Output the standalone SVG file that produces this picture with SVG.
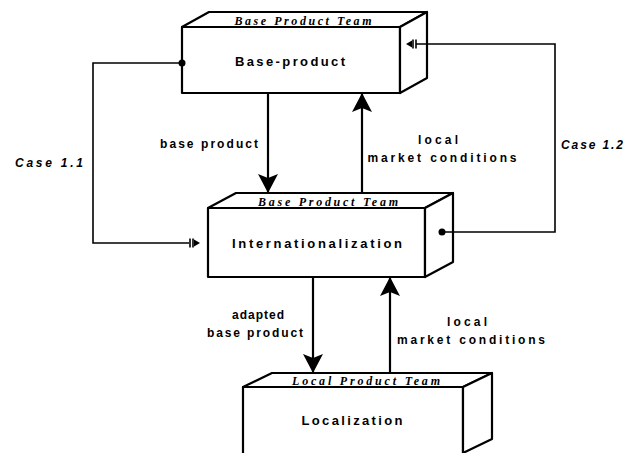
<svg xmlns="http://www.w3.org/2000/svg" width="628" height="453" viewBox="0 0 628 453">
<style>
.box{fill:#fff;stroke:#000;stroke-width:2.2;stroke-linejoin:round}
.con{fill:none;stroke:#000;stroke-width:1.6}
.arr{fill:none;stroke:#000;stroke-width:2.2}
.lbl{font-family:"Liberation Sans",Arial,sans-serif;font-weight:bold;font-size:12px;fill:#000}
.name{font-family:"Liberation Sans",Arial,sans-serif;font-weight:bold;font-size:13px;fill:#000}
.team{font-family:"Liberation Serif","Times New Roman",serif;font-style:italic;font-weight:bold;font-size:12px;fill:#000}
.case{font-family:"Liberation Sans",Arial,sans-serif;font-style:italic;font-weight:bold;font-size:12px;fill:#000}
</style>
<defs>
<marker id="ah" viewBox="0 0 19 20" refX="19" refY="10" markerWidth="19" markerHeight="20" markerUnits="userSpaceOnUse" orient="auto">
<path d="M0,0 L19,10 L0,20 L4,10 z" fill="#000"/>
</marker>
</defs>
<rect width="628" height="453" fill="#fff"/>

<g id="base-product">
<rect class="box" x="182" y="27" width="218" height="66"/>
<polygon class="box" points="182,27 209,12 427,12 400,27"/>
<polygon class="box" points="400,27 427,12 427,78 400,93"/>
<text class="team" x="303" y="25" text-anchor="middle" textLength="137" lengthAdjust="spacing">Base Product Team</text>
<text class="name" x="290" y="66" text-anchor="middle" textLength="110" lengthAdjust="spacing">Base-product</text>
</g>

<g id="internationalization">
<rect class="box" x="208" y="208" width="217" height="69"/>
<polygon class="box" points="208,208 236,193 453,193 425,208"/>
<polygon class="box" points="425,208 453,193 453,262 425,277"/>
<text class="team" x="328" y="206" text-anchor="middle" textLength="140" lengthAdjust="spacing">Base Product Team</text>
<text class="name" x="317" y="248" text-anchor="middle" textLength="170" lengthAdjust="spacing">Internationalization</text>
</g>

<g id="localization">
<rect class="box" x="243" y="387" width="220" height="70"/>
<polygon class="box" points="243,387 272,373 492,373 463,387"/>
<polygon class="box" points="463,387 492,373 492,439 463,453"/>
<text class="team" x="366" y="385" text-anchor="middle" textLength="148" lengthAdjust="spacing">Local Product Team</text>
<text class="name" x="352" y="425" text-anchor="middle" textLength="101" lengthAdjust="spacing">Localization</text>
</g>

<g id="connectors">
<line class="arr" x1="268" y1="93" x2="268" y2="193" marker-end="url(#ah)"/>
<line class="arr" x1="362" y1="193" x2="362" y2="93" marker-end="url(#ah)"/>
<line class="arr" x1="313" y1="277" x2="313" y2="373" marker-end="url(#ah)"/>
<line class="arr" x1="390" y1="373" x2="390" y2="277" marker-end="url(#ah)"/>

<polyline class="con" points="182,63 93,63 93,243 189,243"/>
<circle cx="182" cy="63" r="3.5" fill="#000"/>
<line class="con" x1="190" y1="238.5" x2="190" y2="247.5"/>
<line class="con" x1="193" y1="238.5" x2="193" y2="247.5"/>
<polygon points="194,239.5 200,243 194,246.5" fill="#000"/>

<polyline class="con" points="416,44 555,44 555,232 442,232"/>
<circle cx="442" cy="232" r="3.5" fill="#000"/>
<line class="con" x1="416" y1="39.5" x2="416" y2="48.5"/>
<line class="con" x1="413" y1="39.5" x2="413" y2="48.5"/>
<polygon points="412,40.5 406,44 412,47.5" fill="#000"/>

<text class="lbl" x="209" y="148" text-anchor="middle" textLength="98" lengthAdjust="spacing">base product</text>
<text class="lbl" x="438" y="144" text-anchor="middle" textLength="40" lengthAdjust="spacing">local</text>
<text class="lbl" x="442" y="162" text-anchor="middle" textLength="149" lengthAdjust="spacing">market conditions</text>
<text class="lbl" x="258" y="319" text-anchor="middle" textLength="52" lengthAdjust="spacing">adapted</text>
<text class="lbl" x="255" y="337" text-anchor="middle" textLength="96" lengthAdjust="spacing">base product</text>
<text class="lbl" x="467" y="326" text-anchor="middle" textLength="40" lengthAdjust="spacing">local</text>
<text class="lbl" x="471" y="344" text-anchor="middle" textLength="148" lengthAdjust="spacing">market conditions</text>
<text class="case" x="49" y="167" text-anchor="middle" textLength="68" lengthAdjust="spacing">Case 1.1</text>
<text class="case" x="561" y="149" textLength="62" lengthAdjust="spacing">Case 1.2</text>
</g>
</svg>
